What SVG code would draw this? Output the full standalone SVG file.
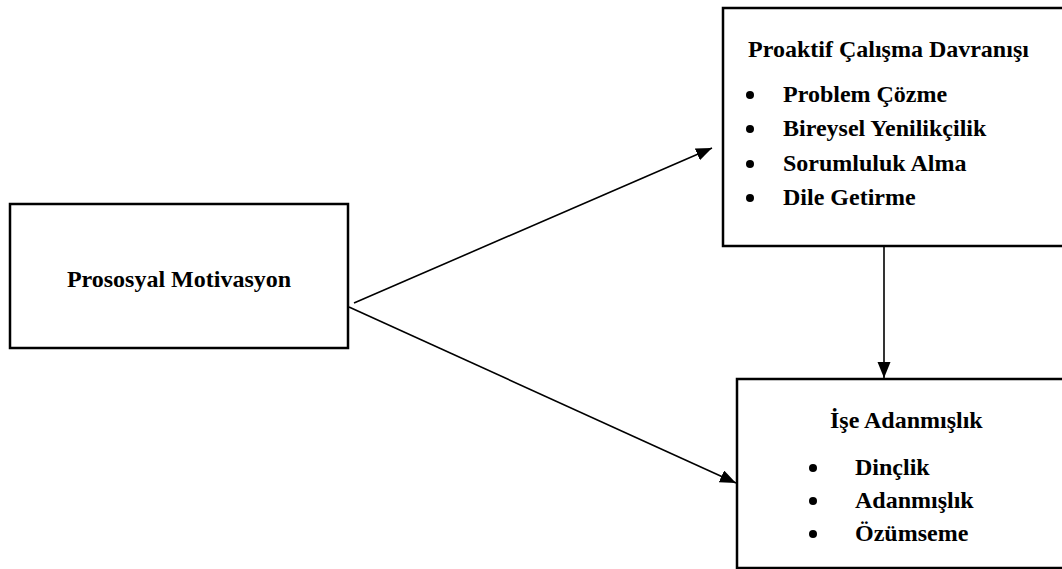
<svg xmlns="http://www.w3.org/2000/svg" width="1062" height="569" viewBox="0 0 1062 569">
<style>
.box{fill:#fff;stroke:#000;stroke-width:2.5}
.t{font-family:"Liberation Serif","Times New Roman",serif;font-weight:bold;font-size:24px;fill:#000}
.c{stroke:#000;stroke-width:1.6;fill:none}
</style>
<defs>
<marker id="ah" markerUnits="userSpaceOnUse" markerWidth="18" markerHeight="14" refX="16" refY="6.5" orient="auto">
<path d="M0,0 L16,6.5 L0,13 Z" fill="#000"/>
</marker>
</defs>
<rect width="1062" height="569" fill="#fff"/>
<g id="node-prosocial">
<rect class="box" x="10" y="204" width="338" height="144"/>
<text class="t" x="179" y="287" text-anchor="middle">Prososyal Motivasyon</text>
</g>
<g id="node-proactive">
<rect class="box" x="723" y="8" width="350" height="238"/>
<text class="t" x="748" y="57">Proaktif Çalışma Davranışı</text>
<circle cx="750" cy="95" r="4"/>
<text class="t" x="783" y="102">Problem Çözme</text>
<circle cx="750" cy="129" r="4"/>
<text class="t" x="783" y="136">Bireysel Yenilikçilik</text>
<circle cx="750" cy="164" r="4"/>
<text class="t" x="783" y="171">Sorumluluk Alma</text>
<circle cx="750" cy="198" r="4"/>
<text class="t" x="783" y="205">Dile Getirme</text>
</g>
<g id="node-engagement">
<rect class="box" x="737" y="379" width="340" height="189"/>
<text class="t" x="830" y="428">İşe Adanmışlık</text>
<circle cx="813" cy="468" r="4"/>
<text class="t" x="855" y="475">Dinçlik</text>
<circle cx="813" cy="501" r="4"/>
<text class="t" x="855" y="508">Adanmışlık</text>
<circle cx="813" cy="534" r="4"/>
<text class="t" x="855" y="541">Özümseme</text>
</g>
<g id="connectors">
<line class="c" x1="354" y1="303" x2="712" y2="148" marker-end="url(#ah)"/>
<line class="c" x1="349" y1="307" x2="736" y2="483" marker-end="url(#ah)"/>
<line class="c" x1="884" y1="247" x2="884" y2="378" marker-end="url(#ah)"/>
</g>
</svg>
